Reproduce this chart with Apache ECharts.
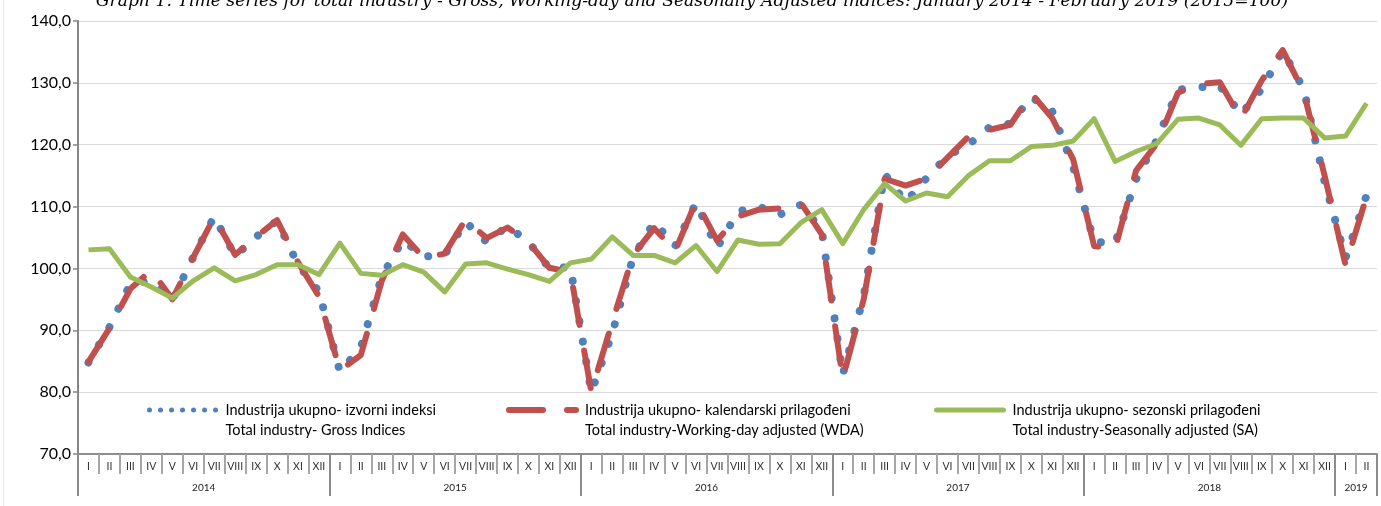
<!DOCTYPE html>
<html>
<head>
<meta charset="utf-8">
<script src="https://cdn.jsdelivr.net/npm/echarts@6/dist/echarts.min.js"></script>
<style>
html,body{margin:0;padding:0;background:#fff;}
#chart{width:1381px;height:506px;}
</style>
</head>
<body>
<div id="chart"></div>
<script>
const monthLabels = ['I','II','III','IV','V','VI','VII','VIII','IX','X','XI','XII'];
const yearLabels = ['2014','2015','2016','2017','2018','2019'];
const monthsInYear = [12,12,12,12,12,2];
const yTickValues = [70,80,90,100,110,120,130,140];

const grossIndices = [
  84.8, 90.5, 97.5, 98.0, 94.9, 101.8, 108.4, 102.0, 105.1, 107.7, 100.6, 96.3,
  83.3, 87.2, 98.7, 104.6, 101.9, 102.2, 107.5, 104.3, 106.8, 104.3, 100.0, 100.2,
  80.0, 89.5, 101.9, 107.5, 103.6, 110.6, 103.3, 109.2, 110.0, 108.7, 110.3, 106.2,
  82.8, 95.5, 115.3, 110.7, 114.6, 118.2, 120.0, 122.8, 123.4, 127.7, 125.4, 116.4,
  104.3, 104.1, 114.4, 120.8, 128.9, 129.3, 129.5, 124.9, 129.0, 135.2, 129.0, 114.0,
  101.7, 111.8
];
const wdaIndices = [
  84.9, 90.3, 96.7, 99.7, 95.0, 101.8, 108.3, 102.2, 105.1, 107.8, 101.0, 95.5,
  83.5, 86.0, 98.0, 105.5, 101.7, 102.4, 107.9, 104.9, 106.6, 104.3, 100.1, 99.4,
  80.1, 91.3, 102.2, 106.5, 102.8, 110.9, 104.5, 108.4, 109.5, 109.7, 110.6, 105.5,
  82.2, 95.0, 114.5, 113.4, 114.5, 117.9, 121.3, 122.4, 123.2, 128.3, 124.3, 117.6,
  103.6, 103.2, 115.8, 120.2, 128.4, 129.8, 130.1, 124.2, 130.4, 135.3, 128.5, 115.0,
  100.5, 111.6
];
const saIndices = [
  103.0, 103.2, 98.6, 97.0, 95.2, 98.0, 100.1, 98.0, 99.0, 100.6, 100.6, 99.0,
  104.1, 99.2, 98.9, 100.6, 99.4, 96.2, 100.7, 100.9, 99.9, 99.0, 97.9, 100.9,
  101.5, 105.1, 102.1, 102.1, 100.9, 103.7, 99.5, 104.6, 103.9, 104.0, 107.4, 109.5,
  104.0, 109.5, 113.7, 110.9, 112.2, 111.6, 115.0, 117.4, 117.4, 119.7, 119.9, 120.6,
  124.2, 117.3, 118.9, 120.2, 124.1, 124.3, 123.2, 119.9, 124.2, 124.3, 124.3, 121.1,
  121.4, 126.7
];

const nameGross = 'Industrija ukupno- izvorni indeksi\nTotal industry- Gross Indices';
const nameWDA = 'Industrija ukupno- kalendarski prilagođeni\nTotal industry-Working-day adjusted (WDA)';
const nameSA = 'Industrija ukupno- sezonski prilagođeni\nTotal industry-Seasonally adjusted (SA)';
const titleText = 'Graph 1. Time series for total industry - Gross, Working-day and Seasonally Adjusted indices: January 2014 - February 2019 (2015=100)';

// month categories (unique keys) and year boundary axis
const monthCats = [];
const boundaryTicks = [0];
const yearAtBoundary = {};
let cum = 0;
yearLabels.forEach((y, k) => {
  for (let m = 0; m < monthsInYear[k]; m++) monthCats.push(monthLabels[m] + '|' + y);
  yearAtBoundary[cum + monthsInYear[k] / 2] = y;
  cum += monthsInYear[k];
  boundaryTicks.push(cum);
});
const boundaryCats = [];
for (let i = 0; i <= cum; i++) boundaryCats.push(String(i));

const FONT = 'Lato';
const chart = echarts.init(document.getElementById('chart'), null, {renderer: 'canvas'});

const legendBase = {
  orient: 'horizontal',
  top: 380,
  padding: 0,
  itemGap: 0,
  itemHeight: 10,
  selectedMode: false,
  formatter: name => '\n' + name,
  itemStyle: {color: 'rgba(0,0,0,0)', borderWidth: 0, opacity: 0},
  textStyle: {fontFamily: FONT, fontSize: 14.5, color: '#000', lineHeight: 20, padding: [0, 0, 0, 4]}
};

chart.setOption({
  backgroundColor: '#fff',
  animation: false,
  grid: {left: 78, right: 4, top: 21, bottom: 52},
  graphic: [
    {type: 'text', x: 692, y: 2, silent: true,
     style: {text: titleText, font: 'italic 17.2px "DejaVu Serif"', fill: '#000', align: 'center', verticalAlign: 'middle'}},
    {type: 'line', silent: true, shape: {x1: 3.5, y1: 0, x2: 3.5, y2: 506}, style: {stroke: '#e8e8e8', lineWidth: 1}}
  ],
  legend: [
    Object.assign({}, legendBase, {data: [nameGross], left: 147, itemWidth: 67,
      lineStyle: {width: 5, type: [0.01, 11], cap: 'round'}}),
    Object.assign({}, legendBase, {data: [nameWDA], left: 506, itemWidth: 67,
      lineStyle: {width: 6, type: [34, 24], cap: 'round'}}),
    Object.assign({}, legendBase, {data: [nameSA], left: 934, itemWidth: 67,
      lineStyle: {width: 5, type: 'solid', cap: 'round'}})
  ],
  xAxis: [
    {
      type: 'category', data: monthCats, boundaryGap: true, position: 'bottom',
      axisLine: {show: true, lineStyle: {color: '#8c8c8c', width: 2}},
      axisTick: {show: true, interval: 0, length: 20, lineStyle: {color: '#a6a6a6', width: 2}},
      axisLabel: {interval: 0, margin: 7, fontFamily: FONT, fontSize: 10.5, color: '#333',
        formatter: v => v.split('|')[0]},
      splitLine: {show: false}
    },
    {
      type: 'category', data: boundaryCats, boundaryGap: false, position: 'bottom',
      axisLine: {show: false},
      axisTick: {show: true, length: 42, interval: i => boundaryTicks.indexOf(i) >= 0,
        lineStyle: {color: '#8c8c8c', width: 2}},
      axisLabel: {interval: 0, margin: 29, fontFamily: FONT, fontSize: 10, color: '#222',
        formatter: (v, i) => yearAtBoundary[i] || ''},
      splitLine: {show: false}
    }
  ],
  yAxis: {
    type: 'value', min: yTickValues[0], max: yTickValues[yTickValues.length - 1], interval: 10,
    axisLine: {show: true, lineStyle: {color: '#868686', width: 2}},
    axisTick: {show: true, length: 5, lineStyle: {color: '#868686', width: 1.5}},
    axisLabel: {margin: 7, fontFamily: FONT, fontSize: 16, color: '#000',
      formatter: v => v.toFixed(1).replace('.', ',')},
    splitLine: {show: true, lineStyle: {color: '#d9d9d9', width: 1}}
  },
  series: [
    {name: nameGross, type: 'line', xAxisIndex: 0, data: grossIndices, symbol: 'none',
     lineStyle: {color: '#4f81bd', width: 8, type: [0.01, 20.5], cap: 'round', join: 'round'},
     itemStyle: {color: '#4f81bd'}},
    {name: nameWDA, type: 'line', xAxisIndex: 0, data: wdaIndices, symbol: 'none',
     lineStyle: {color: '#c0504d', width: 6, type: [38, 26], cap: 'round', join: 'round'},
     itemStyle: {color: '#c0504d'}},
    {name: nameSA, type: 'line', xAxisIndex: 0, data: saIndices, symbol: 'none',
     lineStyle: {color: '#9bbb59', width: 5, type: 'solid', join: 'round'},
     itemStyle: {color: '#9bbb59'}}
  ]
});
</script>
</body>
</html>
